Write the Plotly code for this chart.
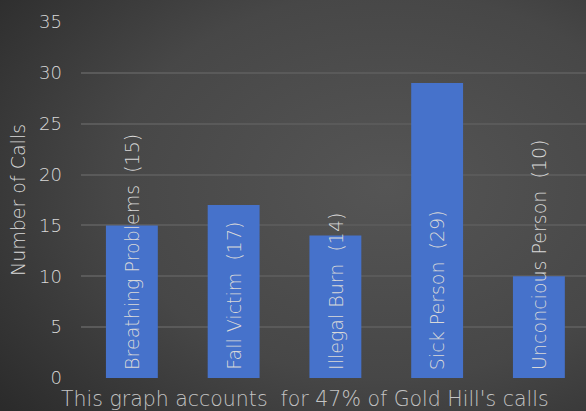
import plotly.graph_objects as go

categories = ["Breathing Problems", "Fall Victim", "Illegal Burn", "Sick Person", "Unconcious Person"]
calls = [15, 17, 14, 29, 10]
y_ticks = [0, 5, 10, 15, 20, 25, 30, 35]
y_title = "Number of Calls"
footer = "This graph accounts  for 47% of Gold Hill's calls"

FONT = "DejaVu Sans"
TEXT = "#d9d9d9"

# soft radial backdrop as an inline SVG
bg_svg = (
    "<svg xmlns='http://www.w3.org/2000/svg' width='586' height='411'>"
    "<defs><radialGradient id='g' cx='0.66' cy='0.45' r='0.85'>"
    "<stop offset='0' stop-color='#555555'/>"
    "<stop offset='0.55' stop-color='#474747'/>"
    "<stop offset='1' stop-color='#2b2b2b'/>"
    "</radialGradient></defs>"
    "<rect width='586' height='411' fill='url(#g)'/></svg>"
)
bg_uri = "data:image/svg+xml;utf8," + bg_svg.replace("#", "%23").replace("<", "%3C").replace(">", "%3E")

xs = list(range(len(categories)))

fig = go.Figure()
fig.add_trace(go.Bar(
    x=xs, y=calls, width=0.51,
    marker=dict(color="#4672cb", line=dict(width=0)),
    hoverinfo="skip",
))

# plot area in pixels: x 81..586, y 22..378
for x, cat, v in zip(xs, categories, calls):
    fig.add_annotation(
        x=x, y=0, xref="x", yref="y",
        text=f"{cat}  ({v})", textangle=-90,
        showarrow=False, xanchor="center", yanchor="bottom",
        yshift=6,
        font=dict(family=FONT, size=19, color=TEXT, weight=200),
    )

fig.add_annotation(
    x=(305 - 81) / 505, y=-(399 - 378) / 356, xref="paper", yref="paper",
    text=footer, showarrow=False,
    xanchor="center", yanchor="middle",
    font=dict(family=FONT, size=20.5, color="#c4c4c4", weight=200),
)

fig.update_layout(
    width=586, height=411,
    margin=dict(l=81, r=0, t=22, b=33),
    paper_bgcolor="#3c3c3c",
    plot_bgcolor="rgba(0,0,0,0)",
    showlegend=False,
    images=[dict(
        source=bg_uri, xref="paper", yref="paper",
        x=-81 / 505, y=1 + 22 / 356, sizex=586 / 505, sizey=411 / 356,
        xanchor="left", yanchor="top", sizing="stretch", layer="below",
    )],
    xaxis=dict(
        range=[-0.5, 4.463], showticklabels=False, showgrid=False,
        zeroline=False, showline=False, ticks="",
    ),
    yaxis=dict(
        range=[0, 35], tickvals=y_ticks,
        showgrid=True, gridcolor="#5a5a5a", gridwidth=2,
        zeroline=False, showline=False, ticks="",
        tickfont=dict(family=FONT, size=18, color=TEXT, weight=200),
        ticklabelstandoff=18,
        title=dict(text=y_title, font=dict(family=FONT, size=19, color=TEXT, weight=200), standoff=8),
    ),
)

fig.write_html("out.html")
